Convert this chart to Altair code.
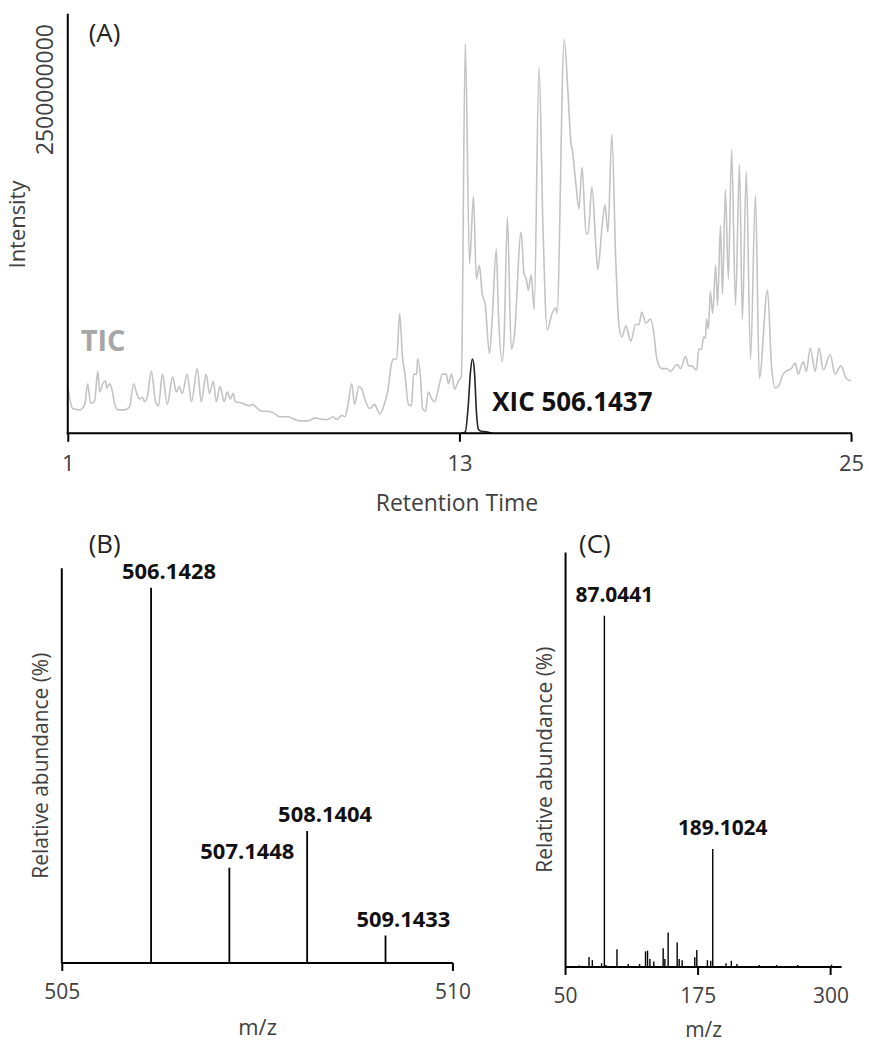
import altair as alt
import pandas as pd

# ---------------- Panel A data (retention time in min, intensity in 1e9 counts)
tic_time = [1.00, 1.15, 1.37, 1.52, 1.61, 1.70, 1.82, 1.92, 1.98, 2.07, 2.16, 2.19, 2.28, 2.34, 2.44,
            2.53, 2.74, 2.89, 3.02, 3.11, 3.20, 3.29, 3.35, 3.44, 3.56, 3.69, 3.78, 3.90, 4.05, 4.21,
            4.33, 4.42, 4.51, 4.66, 4.79, 4.97, 5.09, 5.24, 5.34, 5.46, 5.55, 5.67, 5.79, 5.89, 5.98,
            6.07, 6.13, 6.34, 6.56, 6.65, 6.86, 6.95, 7.05, 7.29, 7.50, 7.75, 7.87, 8.11, 8.36, 8.57,
            8.82, 8.97, 9.12, 9.24, 9.40, 9.49, 9.58, 9.70, 9.79, 9.92, 10.01, 10.10, 10.25, 10.40,
            10.56, 10.71, 10.80, 10.92, 10.98, 11.08, 11.17, 11.26, 11.32, 11.44, 11.53, 11.60, 11.69,
            11.72, 11.81, 11.87, 11.96, 12.05, 12.15, 12.24, 12.39, 12.48, 12.60, 12.66, 12.76, 12.85,
            12.97, 13.06, 13.18, 13.31, 13.43, 13.52, 13.61, 13.70, 13.79, 13.92, 14.01, 14.13, 14.19,
            14.31, 14.37, 14.47, 14.59, 14.68, 14.89, 14.98, 15.05, 15.11, 15.20, 15.29, 15.44, 15.56,
            15.69, 15.84, 15.96, 15.99, 16.21, 16.33, 16.42, 16.45, 16.57, 16.66, 16.76, 16.88, 16.94,
            17.06, 17.18, 17.24, 17.37, 17.46, 17.55, 17.67, 17.79, 17.89, 17.98, 18.10, 18.25, 18.40,
            18.50, 18.59, 18.71, 18.86, 18.95, 19.05, 19.20, 19.35, 19.47, 19.66, 19.78, 19.93, 20.02,
            20.11, 20.27, 20.33, 20.42, 20.48, 20.54, 20.57, 20.63, 20.69, 20.76, 20.85, 20.91, 21.00,
            21.06, 21.15, 21.24, 21.34, 21.46, 21.58, 21.67, 21.79, 21.92, 22.07, 22.19, 22.44, 22.56,
            22.68, 22.77, 22.92, 23.08, 23.17, 23.29, 23.38, 23.53, 23.63, 23.75, 23.90, 24.02, 24.15,
            24.36, 24.51, 24.69, 24.85, 25.00]
tic_int = [0.34, 0.18, 0.17, 0.21, 0.36, 0.22, 0.23, 0.45, 0.30, 0.36, 0.38, 0.33, 0.36, 0.33, 0.21,
           0.17, 0.17, 0.19, 0.36, 0.29, 0.25, 0.26, 0.23, 0.27, 0.45, 0.23, 0.20, 0.43, 0.21, 0.41,
           0.30, 0.34, 0.29, 0.43, 0.23, 0.47, 0.23, 0.43, 0.29, 0.38, 0.23, 0.34, 0.23, 0.30, 0.25,
           0.29, 0.23, 0.22, 0.20, 0.21, 0.17, 0.16, 0.16, 0.15, 0.12, 0.12, 0.11, 0.09, 0.09, 0.11,
           0.10, 0.10, 0.12, 0.10, 0.13, 0.12, 0.20, 0.36, 0.21, 0.34, 0.32, 0.25, 0.18, 0.21,
           0.14, 0.22, 0.30, 0.51, 0.54, 0.54, 0.87, 0.54, 0.45, 0.21, 0.20, 0.43, 0.43,
           0.54, 0.40, 0.18, 0.16, 0.30, 0.25, 0.23, 0.36, 0.43, 0.43, 0.36, 0.43, 0.32,
           0.38, 0.41, 2.83, 1.23, 1.72, 1.12, 1.22, 1.01, 0.94, 0.58, 0.85, 1.34, 0.90,
           0.52, 0.70, 1.57, 0.61, 0.70, 1.46, 1.16, 1.12, 1.04, 1.15, 0.90, 2.66, 1.50,
           0.75, 0.87, 0.91, 0.87, 2.86, 2.46, 2.10, 2.07, 1.81, 1.63, 1.93, 1.45, 1.45,
           1.79, 1.36, 1.19, 1.50, 1.66, 1.46, 2.17, 1.26, 0.78, 0.70, 0.78, 0.67, 0.79,
           0.79, 0.88, 0.80, 0.83, 0.74, 0.54, 0.47, 0.47, 0.45, 0.50, 0.47, 0.56, 0.49,
           0.49, 0.46, 0.61, 0.61, 0.70, 0.69, 0.83, 0.76, 1.03, 0.87, 1.22, 0.93, 1.51,
           1.01, 1.77, 1.12, 2.06, 0.93, 1.95, 0.83, 1.90, 0.54, 1.73, 0.40, 1.04, 0.50,
           0.33, 0.34, 0.43, 0.46, 0.47, 0.51, 0.43, 0.52, 0.45, 0.62, 0.45, 0.62, 0.46,
           0.57, 0.43, 0.49, 0.40, 0.38]

xic_time = [13.06, 13.18, 13.27, 13.34, 13.40, 13.46, 13.52, 13.58, 13.67, 13.86, 14.01]
xic_int = [0.0, 0.01, 0.20, 0.45, 0.54, 0.45, 0.16, 0.03, 0.015, 0.01, 0.0]

# ---------------- Panel B data (MS1 isotope pattern)
b_mz = [506.1428, 507.1448, 508.1404, 509.1433]
b_abund = [100, 25.3, 35.1, 7.2]
b_labels = ["506.1428", "507.1448", "508.1404", "509.1433"]

# ---------------- Panel C data (MS/MS fragments)
c_mz = [63.2, 72.6, 75.7, 84.4, 87.0441, 88.5, 98.9, 109.5, 120.2, 125.8, 127.7, 129.9, 133.6,
        142.4, 144.0, 147.1, 155.6, 157.5, 160.3, 172.2, 174.1, 184.1, 187.2, 189.1024,
        201.6, 206.6, 211.9, 232.9, 249.2, 269.2, 301.0]
c_abund = [0.3, 2.7, 1.8, 0.9, 100, 0.4, 4.9, 0.7, 0.7, 4.3, 4.5, 2.1, 1.4,
           5.2, 2.1, 9.7, 6.8, 2.1, 1.8, 2.6, 4.7, 1.8, 1.6, 33.5,
           0.9, 1.6, 0.7, 0.4, 0.4, 0.4, 0.5]
c_label_mz = [87.0441, 189.1024]
c_label_abund = [100, 33.5]
c_labels = ["87.0441", "189.1024"]

FONT = "Open Sans"
AX = dict(domainColor="black", domainWidth=2, tickColor="black", tickWidth=2, grid=False,
          labelColor="#404040", titleColor="#404040", labelFont=FONT, titleFont=FONT,
          titleFontWeight="normal", labelFlush=False)
one = pd.DataFrame({"k": [0]})


def note(txt, x, y, size, color, weight="normal", align="left"):
    return alt.Chart(pd.DataFrame({"s": [txt]})).mark_text(
        font=FONT, fontSize=size, color=color, fontWeight=weight, align=align, baseline="middle"
    ).encode(x=alt.value(x), y=alt.value(y), text="s:N")


def axis_line():
    return alt.Chart(one).mark_rule(color="black", strokeWidth=2, strokeCap="square")


# ---------------- Panel A
tic_df = pd.DataFrame({"t": tic_time, "i": [v * 1e9 for v in tic_int]})
xic_df = pd.DataFrame({"t": xic_time, "i": [v * 1e9 for v in xic_int]})

xA = alt.X("t:Q", scale=alt.Scale(domain=[0.8168, 25], nice=False, zero=False),
           axis=alt.Axis(values=[1, 13, 25], title="Retention Time", tickSize=8, domain=False,
                         labelPadding=12, titlePadding=18, labelFontSize=22, titleFontSize=23, **AX))
yA = alt.Y("i:Q", scale=alt.Scale(domain=[0, 3.04e9], nice=False),
           axis=alt.Axis(values=[2500000000], format="d", title="Intensity", tickSize=0, domain=False,
                         ticks=False, labelAngle=-90, labelAlign="center", labelBaseline="bottom",
                         labelPadding=4, titlePadding=5, labelFontSize=23, titleFontSize=22, **AX))

tic = alt.Chart(tic_df).mark_line(color="#c3c3c3", strokeWidth=1.6, interpolate="monotone").encode(x=xA, y=yA)
xic = alt.Chart(xic_df).mark_line(color="#222222", strokeWidth=1.6, interpolate="monotone").encode(x="t:Q", y="i:Q")
a_xline = axis_line().encode(x=alt.datum(1), x2=alt.datum(25), y=alt.datum(0))
a_yline = axis_line().encode(x=alt.datum(1), y=alt.datum(0), y2=alt.datum(3.04e9))

panelA = alt.layer(
    tic, xic, a_xline, a_yline,
    note("(A)", 27, 19, 26, "#222222"),
    note("TIC", 19, 328, 29, "#a6a6a6", "bold"),
    note("XIC 506.1437", 432, 390, 26, "#111111", "bold"),
).properties(width=792, height=420)

# ---------------- Panel B
b_df = pd.DataFrame({"mz": b_mz, "a": b_abund, "lab": b_labels})
xB = alt.X("mz:Q", scale=alt.Scale(domain=[505, 510], nice=False, zero=False),
           axis=alt.Axis(values=[505, 510], format="d", title="m/z", tickSize=8, labelPadding=11,
                         titlePadding=15, labelFontSize=21, titleFontSize=22, **AX))
yB = alt.Y("a:Q", scale=alt.Scale(domain=[0, 109.6], nice=False),
           axis=alt.Axis(labels=False, ticks=False, domain=False, title="Relative abundance (%)",
                         titlePadding=10, titleY=214, titleFontSize=21, **AX))
b_rules = alt.Chart(b_df).mark_rule(color="black", strokeWidth=1.8).encode(x=xB, y=yB, y2=alt.datum(0))
b_yline = axis_line().encode(x=alt.datum(505), y=alt.datum(0), y2=alt.datum(105))
b_text = alt.Chart(b_df).mark_text(font=FONT, fontSize=22, fontWeight="bold", color="#111111",
                                   baseline="bottom", dx=18, dy=-4).encode(x="mz:Q", y="a:Q", text="lab:N")
panelB = alt.layer(b_rules, b_yline, b_text, note("(B)", 27, -7, 26, "#222222")).properties(
    width=392, height=412)

# ---------------- Panel C
c_df = pd.DataFrame({"mz": c_mz, "a": c_abund})
cl_df = pd.DataFrame({"mz": c_label_mz, "a": c_label_abund, "lab": c_labels})
xC = alt.X("mz:Q", scale=alt.Scale(domain=[50, 310], nice=False, zero=False),
           axis=alt.Axis(values=[50, 175, 300], title="m/z", tickSize=8, labelPadding=11,
                         titlePadding=13, labelFontSize=21, titleFontSize=21, **AX))
yC = alt.Y("a:Q", scale=alt.Scale(domain=[0, 118.2], nice=False),
           axis=alt.Axis(labels=False, ticks=False, title="Relative abundance (%)", titlePadding=10,
                         titleFontSize=21, **AX))
c_rules = alt.Chart(c_df).mark_rule(color="black", strokeWidth=1.4).encode(x=xC, y=yC, y2=alt.datum(0))
c_text = alt.Chart(cl_df).mark_text(font=FONT, fontSize=21, fontWeight="bold", color="#111111",
                                    baseline="bottom", dx=10, dy=-10).encode(x="mz:Q", y="a:Q", text="lab:N")
panelC = alt.layer(c_rules, c_text, note("(C)", 14, -7, 26, "#222222")).properties(width=277, height=416)

row = alt.hconcat(panelB, panelC, spacing=63)

chart = alt.vconcat(panelA, row, spacing=17).properties(
    padding={"left": 6, "top": 11, "right": 5, "bottom": 0}
).configure_view(stroke=None)

chart.save("out.html", embed_options={"renderer": "svg", "actions": False})
